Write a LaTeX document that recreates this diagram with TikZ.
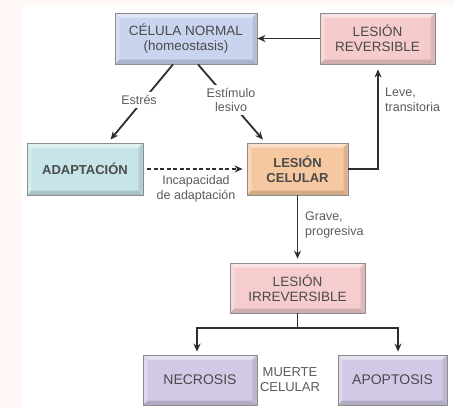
\documentclass[tikz,border=0pt]{standalone}
\usepackage{fontspec}
\setmainfont{Liberation Sans}
\usetikzlibrary{arrows.meta,calc}
\definecolor{cNormal}{HTML}{C9D4EE}
\definecolor{cRev}{HTML}{F5CBCC}
\definecolor{cAdapt}{HTML}{C7E5E8}
\definecolor{cCel}{HTML}{F6C8A0}
\definecolor{cIrr}{HTML}{F5CDCF}
\definecolor{cDeath}{HTML}{D3C9E6}
\definecolor{txt}{HTML}{4A4A4A}
\definecolor{lnk}{HTML}{2E2E2E}
\definecolor{margin}{HTML}{FFF7F5}
\tikzset{
  bev/.style={draw=black!45, line width=0.8pt, fill=#1, inner sep=0pt,
    align=center, text=txt, font=\fontsize{13.5}{15}\selectfont,
    path picture={
      \coordinate (NW) at (path picture bounding box.north west);
      \coordinate (NE) at (path picture bounding box.north east);
      \coordinate (SW) at (path picture bounding box.south west);
      \coordinate (SE) at (path picture bounding box.south east);
      \fill[#1!55!white] (NW) -- (NE) -- ($(NE)+(-4.5pt,-4.5pt)$) -- ($(NW)+(4.5pt,-4.5pt)$) -- cycle;
      \fill[#1!75!white] (NW) -- (SW) -- ($(SW)+(4.5pt,4.5pt)$) -- ($(NW)+(4.5pt,-4.5pt)$) -- cycle;
      \fill[#1!85!black] (SW) -- (SE) -- ($(SE)+(-4.5pt,4.5pt)$) -- ($(SW)+(4.5pt,4.5pt)$) -- cycle;
      \fill[#1!90!black] (NE) -- (SE) -- ($(SE)+(-4.5pt,4.5pt)$) -- ($(NE)+(-4.5pt,-4.5pt)$) -- cycle;
    }},
  link/.style={draw=lnk, line width=1.8pt, -{Stealth[length=8pt,width=7pt]}},
  lbl/.style={text=txt!90!white, font=\fontsize{12.5}{14.5}\selectfont, align=center, inner sep=0pt},
  cut/.style={lbl, fill=white, inner sep=3pt},
}
\begin{document}
\begin{tikzpicture}[x=1pt,y=-1pt]
\fill[margin] (0,0) rectangle (454,408);
\fill[white] (22,5) rectangle (454,408);
\useasboundingbox (0,0) rectangle (454,408);

\node[bev=cNormal, minimum width=142pt, minimum height=51pt] (normal) at (186,38.5) {CÉLULA NORMAL\\(homeostasis)};
\node[bev=cRev, minimum width=115pt, minimum height=51pt] (rev) at (377.5,38.5) {LESIÓN\\REVERSIBLE};
\node[bev=cAdapt, minimum width=116pt, minimum height=52pt, font=\fontsize{13}{15}\bfseries] (adapt) at (85,169) {ADAPTACIÓN};
\node[bev=cCel, minimum width=101pt, minimum height=52pt, font=\fontsize{13}{15}\bfseries] (cel) at (297.5,169) {LESIÓN\\CELULAR};
\node[bev=cIrr, minimum width=135pt, minimum height=50pt] (irr) at (297.5,288) {LESIÓN\\IRREVERSIBLE};
\node[bev=cDeath, minimum width=114pt, minimum height=50pt, font=\fontsize{14}{16}\selectfont] (nec) at (200,380) {NECROSIS};
\node[bev=cDeath, minimum width=109pt, minimum height=50pt, font=\fontsize{14}{16}\selectfont] (apo) at (392.5,380) {APOPTOSIS};

\draw[link] (rev.west) -- (normal.east);
\draw[link, shorten >=4pt] ([xshift=-13pt]normal.south) -- ([xshift=23pt]adapt.north);
\draw[link, shorten >=4pt] ([xshift=12pt]normal.south) -- ([xshift=-32pt]cel.north);
\draw[link, shorten >=5pt] (cel.east) -| ([xshift=0.5pt]rev.south);
\draw[link, dashed, line width=1.3pt, dash pattern=on 4pt off 2.5pt, shorten <=4pt, shorten >=4pt] (adapt.east) -- (cel.west);
\draw[link, shorten >=4pt] (cel.south) -- (irr.north);
\coordinate (split) at (297.5,328);
\draw[draw=lnk, line width=1.8pt] (irr.south) -- (split);
\draw[link, shorten >=3pt] (split) -| ([xshift=-3pt]nec.north);
\draw[link, shorten >=3pt] (split) -| ([xshift=5.5pt]apo.north);

\node[cut] (lestres) at (139,100) {Estrés};
\node[cut] (lestim) at (231,100) {Estímulo\\lesivo};
\node[lbl, align=left, anchor=west] (lleve) at (385,100) {Leve,\\transitoria};
\node[lbl] (linc) at (196,189) {Incapacidad\\de adaptación};
\node[lbl, align=left, anchor=west] (lgrave) at (305,225) {Grave,\\progresiva};
\node[lbl, font=\fontsize{13}{15}\selectfont] (lmuerte) at (290,380) {MUERTE\\CELULAR};
\end{tikzpicture}
\end{document}
